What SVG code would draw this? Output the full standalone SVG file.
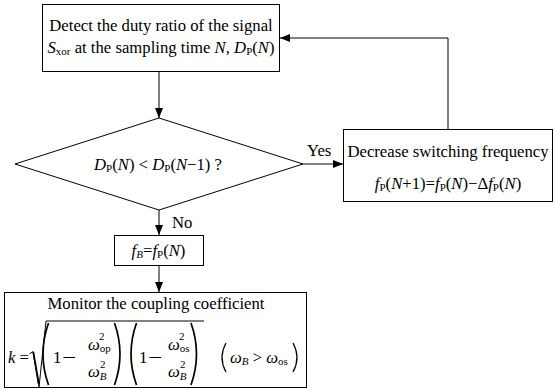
<svg xmlns="http://www.w3.org/2000/svg" width="554" height="390" viewBox="0 0 554 390">
<style>
.box{fill:#fff;stroke:#000;stroke-width:1}
.ln{fill:none;stroke:#000;stroke-width:1}
.dl{fill:none;stroke:#000;stroke-width:1.7}
.dm{fill:none;stroke:#000;stroke-width:1.2}
text{font-family:"Liberation Serif","Times New Roman",serif;font-size:16.7px;fill:#000}
.i{font-style:italic}
.sub{font-size:11px}
.sup{font-size:11px}
.tc{text-anchor:middle}
</style>
<defs>
<marker id="ah" viewBox="0 0 10 8" refX="10" refY="4" markerWidth="10" markerHeight="8" markerUnits="userSpaceOnUse" orient="auto">
<path d="M0,0 L10,4 L0,8 Z" fill="#000"/>
</marker>
</defs>
<rect width="554" height="390" fill="#fff"/>
<g id="connectors">
<line class="ln" x1="159" y1="72" x2="159" y2="118" marker-end="url(#ah)"/>
<line class="ln" x1="303" y1="164" x2="343" y2="164" marker-end="url(#ah)"/>
<polyline class="ln" points="448,129 448,38 280,38" marker-end="url(#ah)"/>
<line class="ln" x1="159" y1="210" x2="159" y2="235" marker-end="url(#ah)"/>
<line class="ln" x1="159" y1="266" x2="159" y2="292" marker-end="url(#ah)"/>
<text x="307" y="156">Yes</text>
<text x="172" y="228">No</text>
</g>
<g id="detect">
<rect class="box" x="42.5" y="4.5" width="237" height="67"/>
<text class="tc" x="161" y="31">Detect the duty ratio of the signal</text>
<text class="tc" x="161" y="53"><tspan class="i">S</tspan><tspan class="sub" dy="1.5">xor</tspan><tspan dy="-1.5"> at the sampling time </tspan><tspan class="i">N</tspan>, <tspan class="i">D</tspan><tspan class="sub" dy="1.5">P</tspan><tspan dy="-1.5">(</tspan><tspan class="i">N</tspan>)</text>
</g>
<g id="decision">
<polygon class="box" points="159,118 303,164 159,210 15,164"/>
<text class="tc" x="158" y="170"><tspan class="i">D</tspan><tspan class="sub" dy="1.5">P</tspan><tspan dy="-1.5">(</tspan><tspan class="i">N</tspan>) &lt; <tspan class="i">D</tspan><tspan class="sub" dy="1.5">P</tspan><tspan dy="-1.5">(</tspan><tspan class="i">N</tspan>−1) ?</text>
</g>
<g id="decrease">
<rect class="box" x="343.5" y="129.5" width="209" height="72"/>
<text class="tc" x="448" y="157">Decrease switching frequency</text>
<text class="tc" x="448" y="189"><tspan class="i">f</tspan><tspan class="sub" dy="1.5">P</tspan><tspan dy="-1.5">(</tspan><tspan class="i">N</tspan>+1)=<tspan class="i">f</tspan><tspan class="sub" dy="1.5">P</tspan><tspan dy="-1.5">(</tspan><tspan class="i">N</tspan>)−Δ<tspan class="i">f</tspan><tspan class="sub" dy="1.5">P</tspan><tspan dy="-1.5">(</tspan><tspan class="i">N</tspan>)</text>
</g>
<g id="fb">
<rect class="box" x="114.5" y="235.5" width="89" height="30"/>
<text class="tc" x="158.5" y="256"><tspan class="i">f</tspan><tspan class="sub i" dy="1.5">B</tspan><tspan dy="-1.5">=</tspan><tspan class="i">f</tspan><tspan class="sub" dy="1.5">P</tspan><tspan dy="-1.5">(</tspan><tspan class="i">N</tspan>)</text>
</g>
<g id="monitor">
<rect class="box" x="4.5" y="292.5" width="302" height="95"/>
<text class="tc" x="156" y="309">Monitor the coupling coefficient</text>
<text class="i" x="8" y="363">k</text>
<text x="19.5" y="363">=</text>
<path d="M29.5,354 L33,351.5 L39,387 L46,321 L204,321" fill="none" stroke="#000" stroke-width="1"/>
<path d="M33.3,352 L38.8,384" fill="none" stroke="#000" stroke-width="1.8"/>
<path class="dl" d="M48.5,323 Q37.5,354 48.5,385"/>
<text x="53" y="363">1</text>
<text x="62" y="363" transform="translate(62,0) scale(1.5,1) translate(-62,0)">−</text>
<text x="88" y="350"><tspan class="i">ω</tspan><tspan class="sub" dy="2">op</tspan></text>
<text class="sup" x="99" y="340">2</text>
<text x="88" y="377"><tspan class="i">ω</tspan><tspan class="sub i" dy="3">B</tspan></text>
<text class="sup" x="100" y="368">2</text>
<path class="dl" d="M114.5,323 Q125.5,354 114.5,385"/>
<path class="dl" d="M136.5,323 Q125.5,354 136.5,385"/>
<text x="139" y="363">1</text>
<text x="148" y="363" transform="translate(148,0) scale(1.5,1) translate(-148,0)">−</text>
<text x="168" y="350"><tspan class="i">ω</tspan><tspan class="sub" dy="2">os</tspan></text>
<text class="sup" x="179" y="340">2</text>
<text x="168" y="377"><tspan class="i">ω</tspan><tspan class="sub i" dy="3">B</tspan></text>
<text class="sup" x="180" y="368">2</text>
<path class="dl" d="M191,323 Q202,354 191,385"/>
<path class="dm" d="M226,343 Q218,357.5 226,372"/>
<text x="230" y="363"><tspan class="i">ω</tspan><tspan class="sub i" dy="2">B</tspan><tspan dy="-2"> &gt; </tspan><tspan class="i">ω</tspan><tspan class="sub" dy="2">os</tspan></text>
<path class="dm" d="M293,343 Q301,357.5 293,372"/>
</g>
</svg>
